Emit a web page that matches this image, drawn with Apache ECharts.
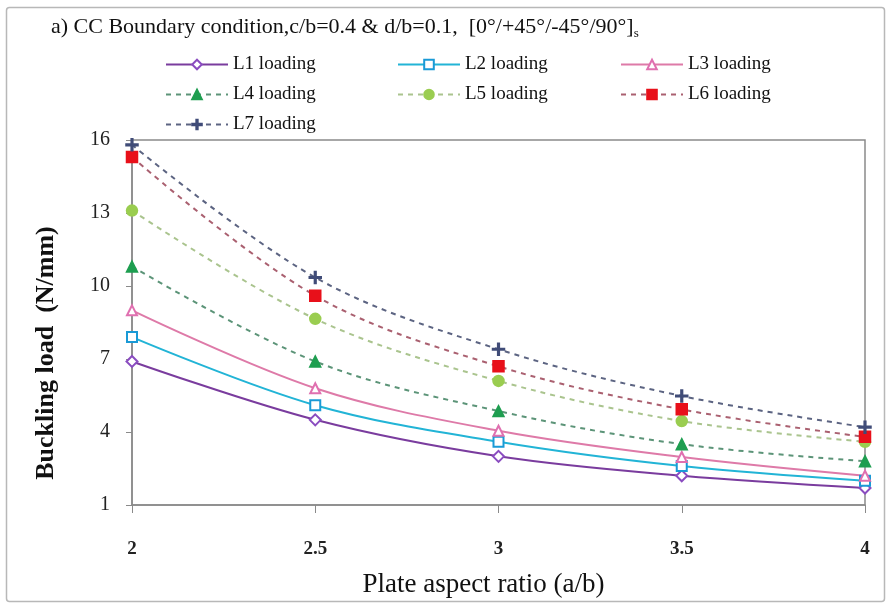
<!DOCTYPE html>
<html>
<head>
<meta charset="utf-8">
<script src="https://cdn.jsdelivr.net/npm/echarts@6/dist/echarts.min.js"></script>
<style>
  html, body { margin: 0; padding: 0; background: #fff; }
  #chart { width: 887px; height: 603px; }
</style>
</head>
<body>
<div id="chart"></div>
<script>
// plate aspect ratio a/b
var ratios = [2, 2.5, 3, 3.5, 4];
var yTicks = [1, 4, 7, 10, 13, 16];

// buckling load (N/mm)
var l1 = [6.9, 4.5, 3.0, 2.2, 1.7];
var l2 = [7.9, 5.1, 3.6, 2.6, 2.0];
var l3 = [9.0, 5.8, 4.05, 2.97, 2.2];
var l4 = [10.8, 6.9, 4.86, 3.5, 2.8];
var l5 = [13.1, 8.65, 6.1, 4.45, 3.6];
var l6 = [15.3, 9.6, 6.7, 4.93, 3.8];
var l7 = [15.8, 10.35, 7.4, 5.48, 4.2];

var names = ['L1 loading', 'L2 loading', 'L3 loading', 'L4 loading', 'L5 loading', 'L6 loading', 'L7 loading'];
var allData = [l1, l2, l3, l4, l5, l6, l7];

var plusPath = 'path://M4.3,0H5.7V4.3H10V5.7H5.7V10H4.3V5.7H0V4.3H4.3Z';
var looks = [
  { line: '#7a3c9e', mark: '#8a4cc0', symbol: 'emptyDiamond', size: 11, dash: 'solid' },
  { line: '#22b4d6', mark: '#1a9ad6', symbol: 'emptyRect', size: 10, dash: 'solid' },
  { line: '#de7aa8', mark: '#e070b0', symbol: 'emptyTriangle', size: 10, dash: 'solid' },
  { line: '#5c9478', mark: '#1e9e50', symbol: 'triangle', size: 11, dash: [5, 5] },
  { line: '#aac48e', mark: '#9acd50', symbol: 'circle', size: 11, dash: [5, 5] },
  { line: '#aa6070', mark: '#e8101a', symbol: 'rect', size: 11, dash: [5, 5] },
  { line: '#5c6482', mark: '#404c78', symbol: plusPath, size: 12, dash: [5, 5] }
];

var serif = 'Liberation Serif';

var seriesList = names.map(function (n, i) {
  var lk = looks[i];
  return {
    name: n,
    type: 'line',
    smooth: 0.35,
    data: ratios.map(function (x, j) { return [x, allData[i][j]]; }),
    symbol: lk.symbol,
    symbolSize: lk.size,
    showAllSymbol: true,
    lineStyle: { color: lk.line, width: 2, type: lk.dash },
    itemStyle: { color: lk.mark, borderColor: lk.mark, borderWidth: 1.5 }
  };
});

function legendCol(left, data) {
  return {
    left: left,
    top: 50,
    orient: 'vertical',
    data: data,
    itemWidth: 62,
    itemHeight: 12,
    itemGap: 11,
    textStyle: { fontFamily: serif, fontSize: 19, color: '#111' }
  };
}

var chart = echarts.init(document.getElementById('chart'));
chart.setOption({
  animation: false,
  backgroundColor: '#fff',
  title: {
    text: 'a) CC Boundary condition,c/b=0.4 & d/b=0.1,  [0°/+45°/-45°/90°]{s|s}',
    left: 46,
    top: 10,
    textStyle: {
      fontFamily: serif, fontSize: 22, fontWeight: 'normal', color: '#111',
      rich: { s: { fontFamily: serif, fontSize: 13, padding: [12, 0, 0, 0], color: '#111' } }
    }
  },
  legend: [
    legendCol(160, ['L1 loading', 'L4 loading', 'L7 loading']),
    legendCol(392, ['L2 loading', 'L5 loading']),
    legendCol(615, ['L3 loading', 'L6 loading'])
  ],
  graphic: [
    {
      type: 'rect', left: 4, top: 5, silent: true,
      shape: { width: 878, height: 594, r: 3 },
      style: { fill: 'none', stroke: '#b8b8b8', lineWidth: 1.5 }
    },
    {
      type: 'text', x: 46, y: 353, rotation: Math.PI / 2,
      style: {
        text: 'Buckling load  (N/mm)', fontFamily: serif, fontSize: 26, fontWeight: 'bold',
        fill: '#111', align: 'center', verticalAlign: 'middle'
      }
    }
  ],
  grid: {
    left: 132, right: 22, top: 140, bottom: 97,
    show: true, borderColor: '#8a8a8a', borderWidth: 1.5, backgroundColor: 'transparent'
  },
  xAxis: {
    type: 'value',
    min: 2, max: 4, interval: 0.5,
    name: 'Plate aspect ratio (a/b)',
    nameLocation: 'middle',
    nameGap: 66,
    nameTextStyle: { fontFamily: serif, fontSize: 27, color: '#111', padding: [0, 30, 0, 0] },
    axisLine: { onZero: false, lineStyle: { color: '#8a8a8a', width: 1.5 } },
    axisTick: { show: true, length: 8, inside: false, lineStyle: { color: '#8a8a8a' } },
    axisLabel: { margin: 35, fontFamily: serif, fontSize: 19, fontWeight: 'bold', color: '#222' },
    splitLine: { show: false }
  },
  yAxis: {
    type: 'value',
    min: 1, max: 16,
    axisLine: { show: true, lineStyle: { color: '#8a8a8a', width: 1.5 } },
    axisTick: { show: true, length: 6, customValues: yTicks, lineStyle: { color: '#8a8a8a' } },
    axisLabel: { margin: 22, customValues: yTicks, fontFamily: serif, fontSize: 20, color: '#222' },
    splitLine: { show: false }
  },
  series: seriesList
});
</script>
</body>
</html>
